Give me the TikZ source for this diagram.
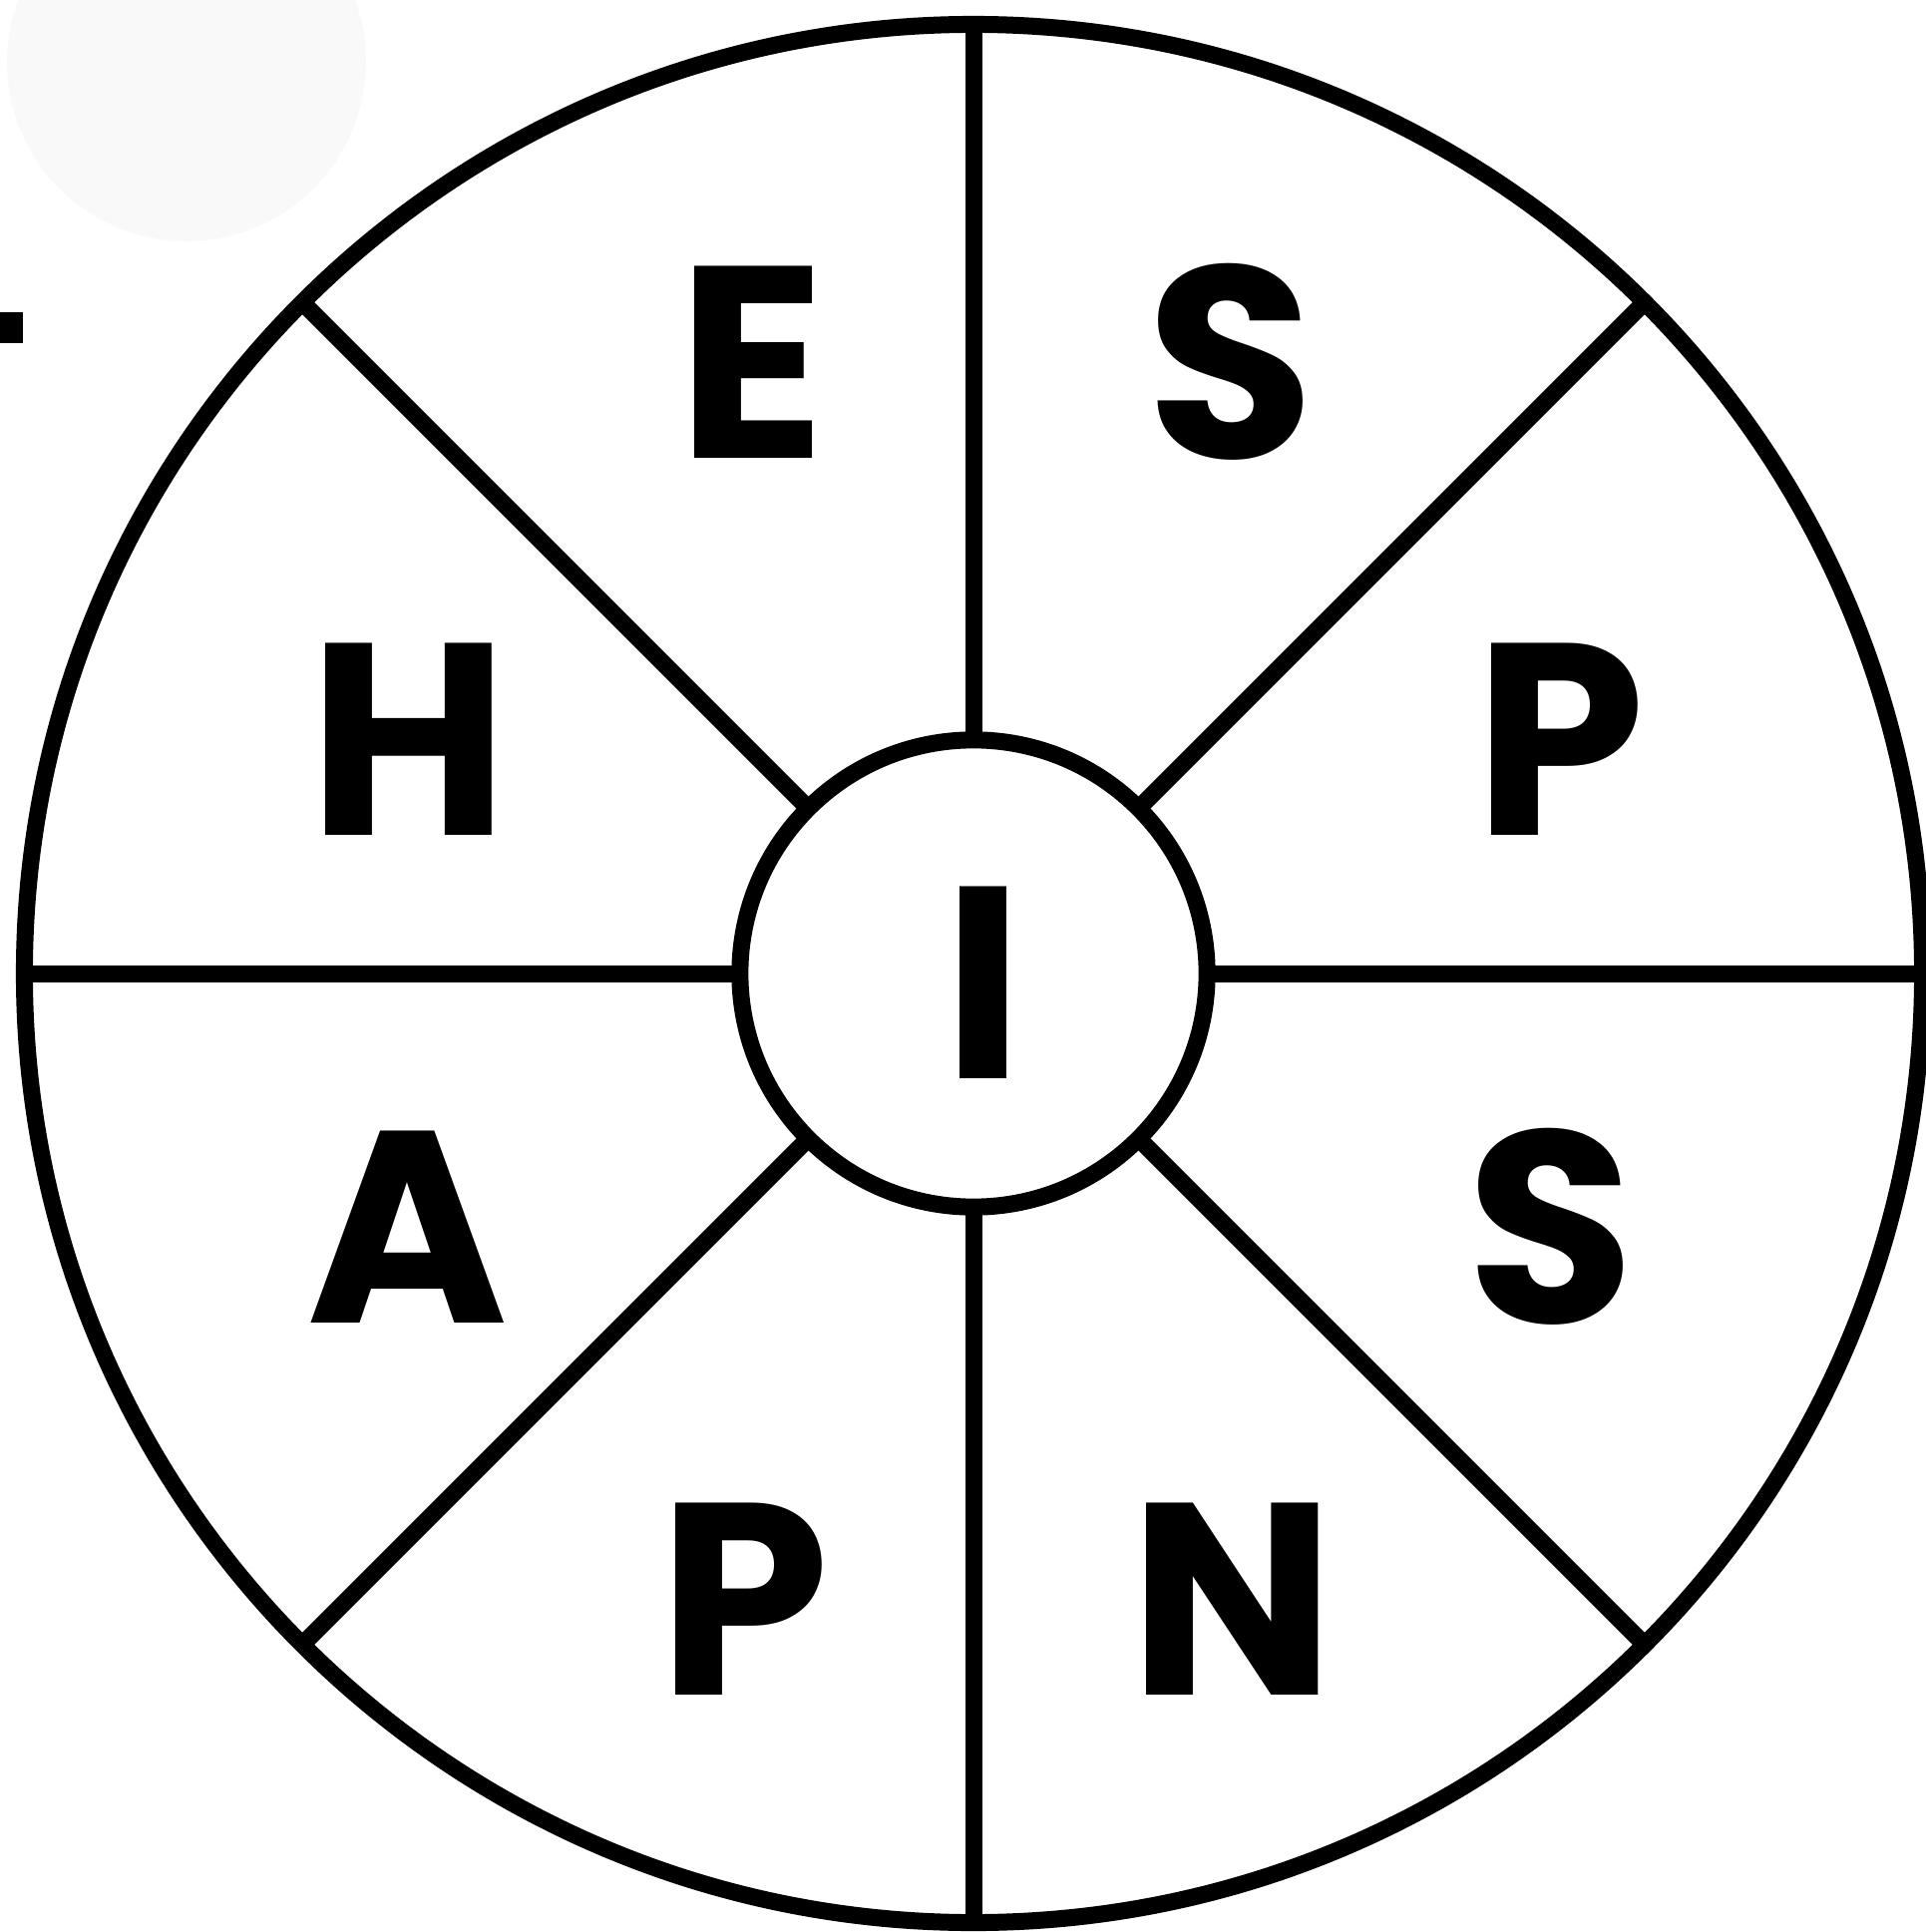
\documentclass[tikz,border=0pt]{standalone}
\usepackage{fontspec}
\setmainfont{Poppins}
\usetikzlibrary{positioning}
\definecolor{ghost}{HTML}{F9F9F9}

\tikzset{
  ring/.style={draw, circle, line width=0.17cm, inner sep=0pt, outer sep=0pt},
  spoke/.style={line width=0.17cm},
  letter/.style={font=\fontsize{78}{78}\selectfont\bfseries, anchor=base, inner sep=0pt}
}

\begin{document}
\begin{tikzpicture}[x=0.01cm, y=-0.01cm]
                \useasboundingbox (0,0) rectangle (1931,1937);
                % Stray marks
                \fill[ghost] (187,62) circle (180);
                \fill[black] (0,313) rectangle (23,344);
                % Wheel and hub
                \node[ring, minimum size=19.02cm] (wheel) at (976,976) {};
                \node[ring, minimum size=4.68cm] (hub) at (976,976) {};
                % Spokes
                \foreach \a in {0,45,...,315}
                    \draw[spoke] (hub.\a) -- (wheel.\a);
                % Letters
                \node[letter] (e) at (754,460) {E};
                \node[letter] (s1) at (1234,460) {S};
                \node[letter] (p1) at (1564,837) {P};
                \node[letter] (s2) at (1555,1326) {S};
                \node[letter] (n) at (1236,1699) {N};
                \node[letter] (p2) at (746,1699) {P};
                \node[letter] (a) at (409,1326) {A};
                \node[letter] (h) at (410,837) {H};
                \node[letter] (i) at (986,1081) {I};
\end{tikzpicture}
\end{document}
